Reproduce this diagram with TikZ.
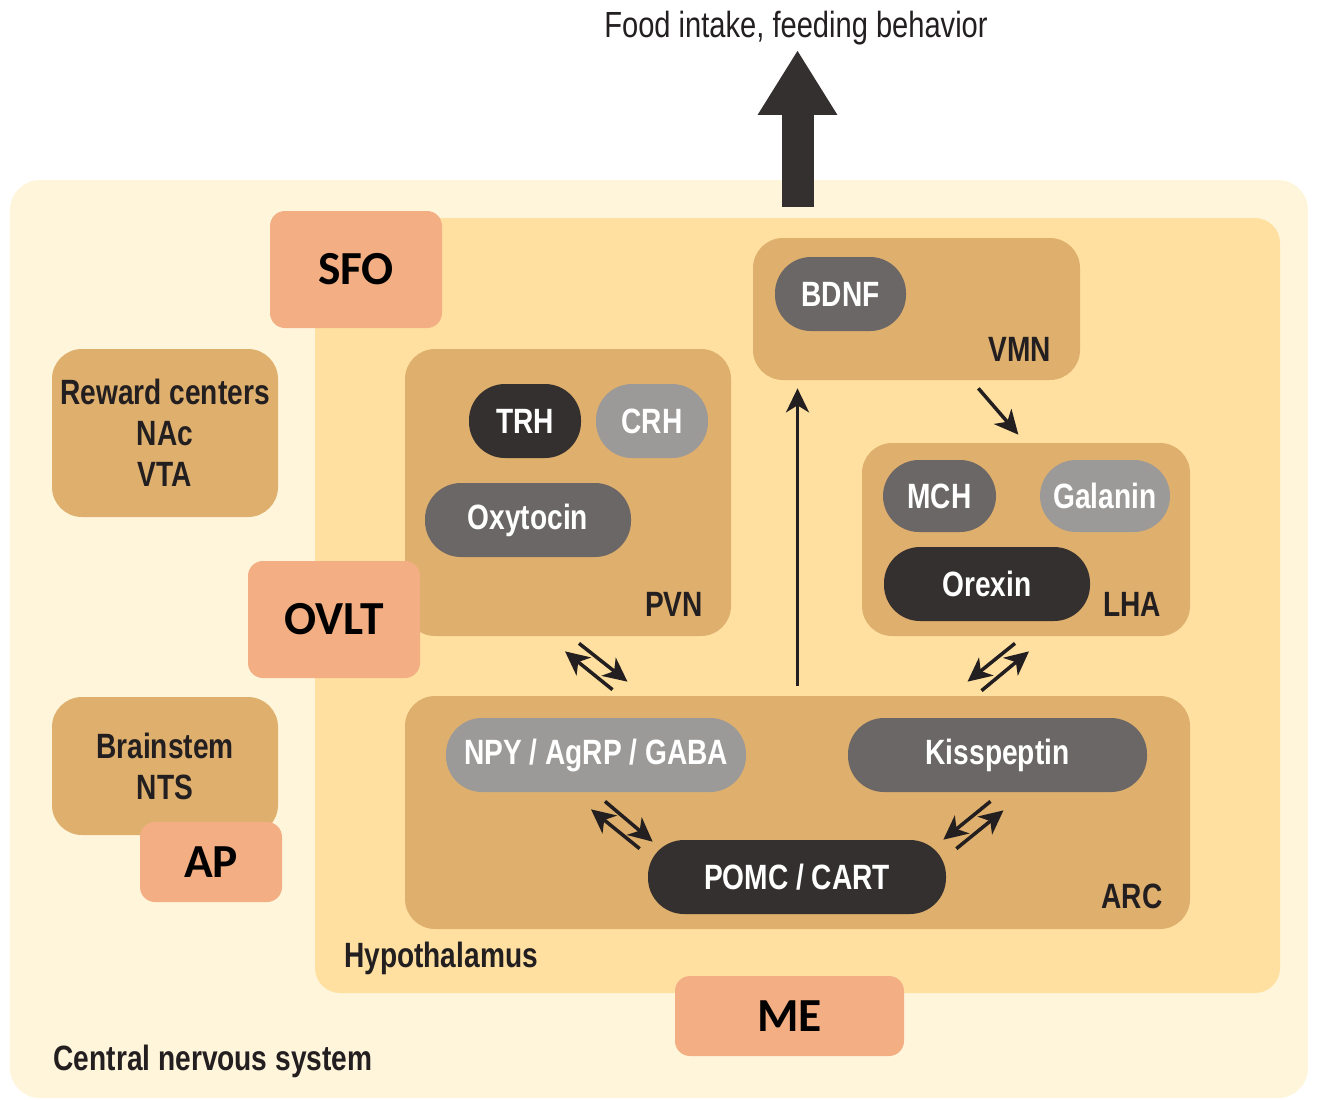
\documentclass[tikz,border=0pt]{standalone}
\usepackage{fontspec}
\setmainfont{Liberation Sans}[FakeStretch=0.8]
\newfontfamily\calib{Carlito}
\usepackage{tikz}
\usetikzlibrary{shapes,positioning,fit,calc,arrows.meta}
\usepackage{xcolor}
\definecolor{cnsbg}{HTML}{FEF5DA}
\definecolor{hypobg}{HTML}{FFE0A0}
\definecolor{tanbox}{HTML}{DFB06D}
\definecolor{salmon}{HTML}{F3AF83}
\definecolor{pilldark}{HTML}{353030}
\definecolor{pillmid}{HTML}{6A6766}
\definecolor{pilllight}{HTML}{9C9A99}
\definecolor{inkdark}{HTML}{231F20}

\tikzset{
  region/.style={inner sep=0, rounded corners=0.6cm, fill=tanbox},
  organ/.style={inner sep=0, rounded corners=0.3cm, fill=salmon, text=black,
    font=\calib\fontsize{27}{30}\selectfont\bfseries},
  pill/.style={inner sep=0, rounded corners=0.72cm, text=white,
    font=\fontsize{20}{23}\selectfont\bfseries},
  tag/.style={inner sep=0, text=inkdark, font=\fontsize{20}{23.3}\selectfont\bfseries},
  swap/.style={line width=2pt, inkdark, -{Stealth[length=0.48cm,width=0.46cm,inset=0.14cm]}}
}

\begin{document}
\begin{tikzpicture}[x=0.02cm, y=-0.02cm]
  \useasboundingbox (0,0) rectangle (1317,1099);
  \node[inner sep=0, rounded corners=0.6cm, fill=cnsbg, fit={(10,180) (1308,1098)}] (cns) {};
  \node[inner sep=0, rounded corners=0.5cm, fill=hypobg, fit={(315,218) (1280,993)}] (hypo) {};

  \node[organ, fit={(270,211) (442,328)}] (sfo) {};
  \node[organ] at (sfo.center) {SFO};
  \node[region, fit={(52,349) (278,517)}] (reward) {};
  \node[tag, align=center] at (reward.center) {Reward centers\\NAc\\VTA};
  \node[region, fit={(52,697) (278,835)}] (brain) {};
  \node[tag, align=center] at (brain.center) {Brainstem\\NTS};
  \node[organ, fit={(140,822) (282,902)}] (ap) {};
  \node[organ] at (ap.center) {AP};

  \node[region, fit={(405,349) (731,636)}] (pvn) {};
  \node[region, fit={(753,238) (1080,380)}] (vmn) {};
  \node[region, fit={(862,443) (1190,636)}] (lha) {};
  \node[region, fit={(405,696) (1190,929)}] (arc) {};

  \node[organ, fit={(248,561) (420,678)}] (ovlt) {};
  \node[organ] at (ovlt.center) {OVLT};
  \node[organ, fit={(675,976) (904,1056)}] (me) {};
  \node[organ] at (me.center) {ME};

  \node[pill, fill=pilldark, fit={(469,384) (581,458)}] (trh) {};
  \node[pill] at (trh.center) {TRH};
  \node[pill, fill=pilllight, fit={(596,384) (708,458)}] (crh) {};
  \node[pill] at (crh.center) {CRH};
  \node[pill, fill=pillmid, fit={(425,483) (631,557)}] (oxy) {};
  \node[pill] at (oxy.center) {Oxytocin};
  \node[pill, fill=pillmid, fit={(775,257) (906,331)}] (bdnf) {};
  \node[pill] at (bdnf.center) {BDNF};
  \node[pill, fill=pillmid, fit={(883,460) (996,532)}] (mch) {};
  \node[pill] at (mch.center) {MCH};
  \node[pill, fill=pilllight, fit={(1040,460) (1170,532)}] (gal) {};
  \node[pill] at (gal.center) {Galanin};
  \node[pill, fill=pilldark, fit={(884,547) (1090,621)}] (orx) {};
  \node[pill] at (orx.center) {Orexin};
  \node[pill, fill=pilllight, fit={(446,718) (746,792)}] (npy) {};
  \node[pill] at (npy.center) {NPY / AgRP / GABA};
  \node[pill, fill=pillmid, fit={(848,718) (1147,792)}] (kiss) {};
  \node[pill] at (kiss.center) {Kisspeptin};
  \node[pill, fill=pilldark, fit={(648,840) (946,914)}] (pomc) {};
  \node[pill] at (pomc.center) {POMC / CART};

  \node[tag] (pvnlbl) at (674,604) {PVN};
  \node[tag] (vmnlbl) at (1020,349) {VMN};
  \node[tag] (lhalbl) at (1132,604) {LHA};
  \node[tag] (arclbl) at (1132,896) {ARC};
  \node[tag] (hypolbl) at (441,958) {Hypothalamus};
  \node[tag] (cnslbl) at (213,1061) {Central nervous system};
  \node[inner sep=0, text=inkdark, font=\fontsize{20.7}{24}\selectfont] (food) at (796,28) {Food intake, feeding behavior};

  \coordinate (base) at (797.5,207);
  \coordinate (tip) at (797.5,50);
  \draw[pilldark, line width=0.64cm, -{Triangle[length=1.3cm,width=1.5cm]}] (base) -- (tip);

  \draw[swap] ([yshift=0.2cm]arc.north) -- ([yshift=-0.16cm]arc.north |- vmn.south);
  \draw[swap] ($(vmn.south east)+(-102,8)$) -- ($(lha.north east)+(-172,-8)$);

  \draw[swap] ($(arc.north)+(-185,-6)$) -- ($(pvn.south)+(-3,15)$);
  \draw[swap] ($(pvn.south)+(11,7)$) -- ($(arc.north)+(-170,-14)$);
  \draw[swap] ($(lha.south)+(-11,7)$) -- ($(arc.north)+(170,-14)$);
  \draw[swap] ($(arc.north)+(184,-5)$) -- ($(lha.south)+(3,15)$);

  \draw[swap] ($(pomc.north west)+(-8,9)$) -- ($(npy.south)+(-5,17)$);
  \draw[swap] ($(npy.south)+(9,9)$) -- ($(pomc.north west)+(5,2)$);
  \draw[swap] ($(kiss.south)+(-7,9)$) -- ($(pomc.north east)+(-3,0)$);
  \draw[swap] ($(pomc.north east)+(10,9)$) -- ($(kiss.south)+(6,18)$);
\end{tikzpicture}
\end{document}
